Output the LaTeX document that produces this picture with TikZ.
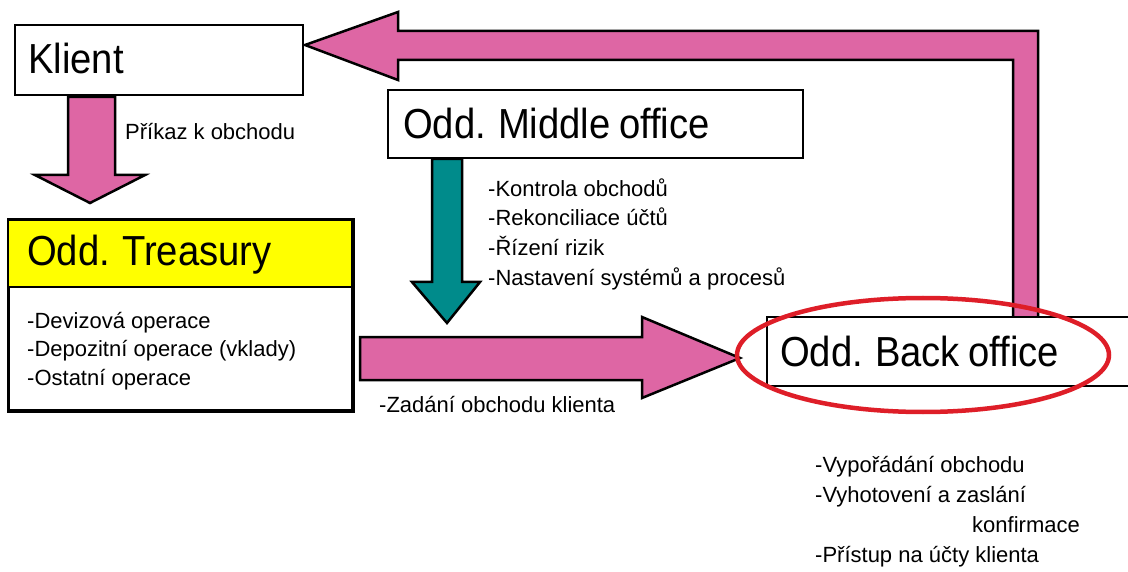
\documentclass[tikz,border=0pt]{standalone}
\usepackage{fontspec}
\setmainfont{Liberation Sans}
\newfontfamily\titlefont{Liberation Sans}[FakeStretch=0.91,WordSpace=0.8]
\definecolor{flowpink}{RGB}{222,102,164}
\definecolor{flowteal}{RGB}{0,139,139}
\definecolor{headyellow}{RGB}{255,255,0}
\definecolor{markred}{RGB}{222,30,40}
\begin{document}
\begin{tikzpicture}[x=1pt,y=-1pt,
  box/.style={draw=black,line width=2.5pt,fill=white,rectangle,inner sep=0pt},
  blockarrow/.style={draw=black,line width=2.5pt,line join=miter},
  title/.style={font=\titlefont\fontsize{42}{48}\selectfont,anchor=base west,inner sep=0pt},
  item/.style={font=\fontsize{22}{28}\selectfont,anchor=base west,inner sep=0pt},
]
\useasboundingbox (0,0) rectangle (1128,572);
\clip (0,0) rectangle (1128,572);

% return flow: Back office -> Klient
\filldraw[blockarrow,fill=flowpink]
  (1013,318) -- (1013,60) -- (398,60) -- (398,80) -- (305,45) -- (398,12)
  -- (398,31) -- (1038,31) -- (1038,318);

% Klient -> Treasury
\filldraw[blockarrow,fill=flowpink]
  (68,97) -- (115,97) -- (115,175) -- (145,175) -- (90,203) -- (35,175) -- (68,175) -- cycle;

% Middle office -> Back office
\filldraw[blockarrow,fill=flowteal]
  (432,159) -- (462,159) -- (462,282) -- (480,282) -- (447,323) -- (412,282) -- (432,282) -- cycle;

% Treasury -> Back office
\filldraw[blockarrow,fill=flowpink]
  (360,337) -- (642,337) -- (642,317) -- (740,358) -- (642,398) -- (642,380) -- (360,380) -- cycle;

% boxes
\node[box,minimum width=288pt,minimum height=70pt] (klient) at (159,60) {};
\node[title] (klientT) at (28,74) {Klient};

\node[box,minimum width=343pt,minimum height=189pt] (treasury) at (180.5,315.5) {};
\fill[headyellow] ([shift={(1.25pt,-1.25pt)}]treasury.north west) rectangle (350.75,287);
\draw[line width=2.5pt] (treasury.north west |- 0,287) -- (treasury.north east |- 0,287);
\draw[line width=2.5pt] (treasury.north west) rectangle (treasury.south east);
\node[title] (treasuryT) at (27,266) {Odd. Treasury};

\node[box,minimum width=415pt,minimum height=68pt] (middle) at (595.5,124) {};
\node[title] (middleT) at (403,139) {Odd. Middle office};

\node[box,minimum width=380pt,minimum height=69pt] (back) at (957,351.5) {};
\node[title] (backT) at (780,366) {Odd. Back office};

% highlight around Back office
\draw[markred,line width=4.5pt] (923,355) ellipse [x radius=186, y radius=57];

% labels
\node[item] (prikaz) at (125,140) {Příkaz k obchodu};

\node[item] (t1) at (27,328) {-Devizová operace};
\node[item] (t2) at (27,356.5) {-Depozitní operace (vklady)};
\node[item] (t3) at (27,385) {-Ostatní operace};

\node[item] (m1) at (488,197) {-Kontrola obchodů};
\node[item] (m2) at (488,226) {-Rekonciliace účtů};
\node[item] (m3) at (488,256) {-Řízení rizik};
\node[item] (m4) at (488,286) {-Nastavení systémů a procesů};

\node[item] (zadani) at (379,412) {-Zadání obchodu klienta};

\node[item] (b1) at (815,472) {-Vypořádání obchodu};
\node[item] (b2) at (815,502) {-Vyhotovení a zaslání};
\node[item,anchor=base east] (b3) at (1080,532) {konfirmace};
\node[item] (b4) at (815,562) {-Přístup na účty klienta};
\end{tikzpicture}
\end{document}
